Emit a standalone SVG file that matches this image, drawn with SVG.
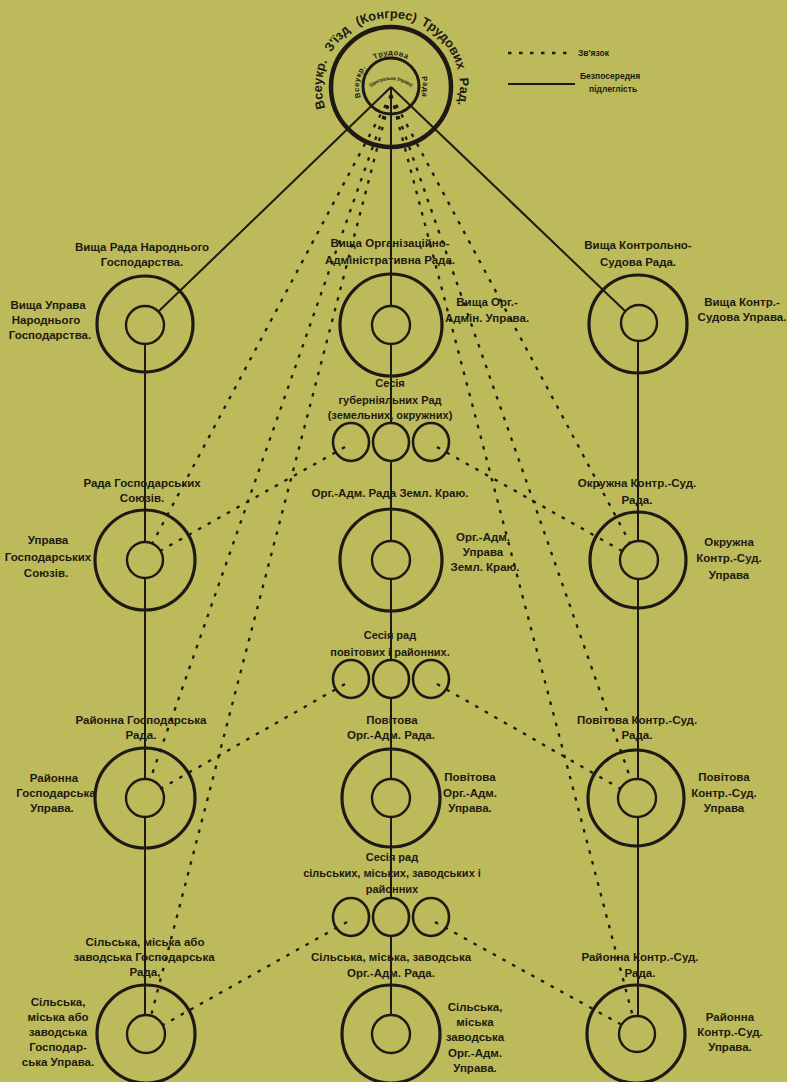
<svg xmlns="http://www.w3.org/2000/svg" width="787" height="1082" viewBox="0 0 787 1082">
<style>
.bg{fill:#bdba5b}
.o{fill:none;stroke:#1c1a12;stroke-width:3.2}
.i{fill:none;stroke:#1c1a12;stroke-width:2.4}
.t{fill:none;stroke:#1c1a12;stroke-width:2.6}
.s{stroke:#1c1a12;stroke-width:2;fill:none}
.d{stroke:#1c1a12;stroke-width:2.3;fill:none;stroke-dasharray:3.5 7.5}
text{font-family:"Liberation Sans","DejaVu Sans",sans-serif;font-weight:bold;font-size:11.5px;fill:#1c1a12;text-anchor:middle}
.sm{font-size:11px}
.lg{font-size:8.5px;text-anchor:start}
.ct{font-size:12.8px}
.ci{font-size:7.5px;letter-spacing:0.5px}
.cs{font-size:5px}
</style>
<defs>
<path id="arcOuter" d="M325,107.2 A69,69 0 1 1 457,107.2"/>
<path id="arcInner" d="M362,100.5 A32,32 0 1 1 420,100.5"/>
<path id="arcCore" d="M368,89 Q391,71 414,89"/>
</defs>
<rect class="bg" x="0" y="0" width="787" height="1082"/>

<g id="legend">
<line class="d" x1="508" y1="53" x2="574" y2="53"/>
<text class="lg" x="578" y="56">Зв'язок</text>
<line class="s" x1="508" y1="84" x2="575" y2="84"/>
<text class="lg" x="580" y="79">Безпосередня</text>
<text class="lg" x="589" y="92">підлеглість</text>
</g>

<g id="connectors">
<line class="s" x1="391" y1="87" x2="158" y2="312"/>
<line class="s" x1="391" y1="87" x2="625" y2="311"/>
<line class="s" x1="391" y1="87" x2="391" y2="306"/>
<line class="s" x1="391" y1="344" x2="391" y2="423"/>
<line class="s" x1="391" y1="461" x2="391" y2="541"/>
<line class="s" x1="391" y1="579" x2="391" y2="660"/>
<line class="s" x1="391" y1="698" x2="391" y2="779"/>
<line class="s" x1="391" y1="817" x2="391" y2="898"/>
<line class="s" x1="391" y1="936" x2="391" y2="1015"/>
<line class="s" x1="145" y1="343" x2="145" y2="542"/>
<line class="s" x1="145" y1="578" x2="145" y2="779"/>
<line class="s" x1="145" y1="817" x2="145" y2="1015"/>
<line class="s" x1="638" y1="342" x2="638" y2="541"/>
<line class="s" x1="638" y1="579" x2="638" y2="779"/>
<line class="s" x1="638" y1="817" x2="638" y2="1016"/>
<line class="d" x1="391" y1="95" x2="152" y2="544"/>
<line class="d" x1="391" y1="95" x2="150" y2="780"/>
<line class="d" x1="391" y1="95" x2="151" y2="1016"/>
<line class="d" x1="391" y1="95" x2="630" y2="543"/>
<line class="d" x1="391" y1="95" x2="631" y2="780"/>
<line class="d" x1="391" y1="95" x2="633" y2="1017"/>
<line class="d" x1="345" y1="447" x2="160" y2="551"/>
<line class="d" x1="437" y1="447" x2="622" y2="551"/>
<line class="d" x1="345" y1="684" x2="160" y2="789"/>
<line class="d" x1="437" y1="684" x2="621" y2="789"/>
<line class="d" x1="347" y1="922" x2="163" y2="1025"/>
<line class="d" x1="435" y1="922" x2="622" y2="1025"/>
</g>

<g id="congress">
<circle cx="391" cy="87" r="60" fill="none" stroke="#1c1a12" stroke-width="4.5"/>
<circle cx="391" cy="86" r="28" fill="none" stroke="#1c1a12" stroke-width="3"/>
<text class="ct"><textPath href="#arcOuter" startOffset="9%">Всеукр.</textPath></text>
<text class="ct"><textPath href="#arcOuter" startOffset="27.6%">З'їзд</textPath></text>
<text class="ct"><textPath href="#arcOuter" startOffset="48.2%">(Конгрес)</textPath></text>
<text class="ct"><textPath href="#arcOuter" startOffset="73.6%">Трудових</textPath></text>
<text class="ct"><textPath href="#arcOuter" startOffset="93.8%">Рад.</textPath></text>
<text class="ci"><textPath href="#arcInner" startOffset="15%">Всеукр.</textPath></text>
<text class="ci"><textPath href="#arcInner" startOffset="50%">Трудова</textPath></text>
<text class="ci"><textPath href="#arcInner" startOffset="89%">Рада</textPath></text>
<text class="cs" textLength="44" lengthAdjust="spacingAndGlyphs"><textPath href="#arcCore" startOffset="50%">(Центральна Управа)</textPath></text>
</g>

<g id="n-vrng">
<circle class="o" cx="145" cy="324" r="48"/>
<circle class="i" cx="145" cy="325" r="19"/>
<text x="142" y="251">Вища Рада Народнього</text>
<text x="142" y="266">Господарства.</text>
<text x="48" y="309">Вища Управа</text>
<text x="46" y="324">Народнього</text>
<text x="50" y="339">Господарства.</text>
</g>
<g id="n-voar">
<circle class="o" cx="391" cy="325" r="51"/>
<circle class="i" cx="391" cy="325" r="19"/>
<text x="390" y="247">Вища Організаційно-</text>
<text x="390" y="264">Адміністративна Рада.</text>
<text x="487" y="306">Вища Орг.-</text>
<text x="487" y="322">Адмін. Управа.</text>
</g>
<g id="n-vksr">
<circle class="o" cx="638" cy="324" r="49"/>
<circle class="i" cx="639" cy="323" r="18"/>
<text x="638" y="249">Вища Контрольно-</text>
<text x="638" y="266">Судова Рада.</text>
<text x="742" y="306">Вища Контр.-</text>
<text x="742" y="321">Судова Управа.</text>
</g>

<g id="s-gub">
<ellipse class="t" cx="351" cy="442" rx="18" ry="19"/>
<ellipse class="t" cx="391" cy="442" rx="18" ry="19"/>
<ellipse class="t" cx="431" cy="442" rx="18" ry="19"/>
<text class="sm" x="390" y="387">Сесія</text>
<text class="sm" x="390" y="404">губерніяльних Рад</text>
<text class="sm" x="390" y="419">(земельних, окружних)</text>
</g>

<g id="n-rgs">
<circle class="o" cx="145" cy="560" r="50"/>
<circle class="i" cx="145" cy="560" r="18"/>
<text x="142" y="487">Рада Господарських</text>
<text x="142" y="502">Союзів.</text>
<text x="48" y="544">Управа</text>
<text x="48" y="561">Господарських</text>
<text x="46" y="577">Союзів.</text>
</g>
<g id="n-oazk">
<circle class="o" cx="391" cy="560" r="51"/>
<circle class="i" cx="391" cy="560" r="19"/>
<text x="390" y="497">Орг.-Адм. Рада Земл. Краю.</text>
<text x="483" y="541">Орг.-Адм.</text>
<text x="483" y="556">Управа</text>
<text x="485" y="571">Земл. Краю.</text>
</g>
<g id="n-oks">
<circle class="o" cx="638" cy="560" r="48"/>
<circle class="i" cx="639" cy="560" r="19"/>
<text x="637" y="487">Окружна Контр.-Суд.</text>
<text x="637" y="504">Рада.</text>
<text x="729" y="546">Окружна</text>
<text x="729" y="562">Контр.-Суд.</text>
<text x="729" y="579">Управа</text>
</g>

<g id="s-pov">
<ellipse class="t" cx="351" cy="679" rx="18" ry="19"/>
<ellipse class="t" cx="391" cy="679" rx="18" ry="19"/>
<ellipse class="t" cx="431" cy="679" rx="18" ry="19"/>
<text class="sm" x="390" y="639">Сесія рад</text>
<text class="sm" x="390" y="656">повітових і районних.</text>
</g>

<g id="n-rgr">
<circle class="o" cx="145" cy="798" r="50"/>
<circle class="i" cx="145" cy="798" r="19"/>
<text x="141" y="724">Районна Господарська</text>
<text x="141" y="739">Рада.</text>
<text x="54" y="782">Районна</text>
<text x="56" y="797">Господарська</text>
<text x="52" y="812">Управа.</text>
</g>
<g id="n-poa">
<circle class="o" cx="391" cy="798" r="49"/>
<circle class="i" cx="391" cy="798" r="19"/>
<text x="392" y="724">Повітова</text>
<text x="391" y="739">Орг.-Адм. Рада.</text>
<text x="470" y="781">Повітова</text>
<text x="470" y="797">Орг.-Адм.</text>
<text x="470" y="812">Управа.</text>
</g>
<g id="n-pks">
<circle class="o" cx="636" cy="798" r="48"/>
<circle class="i" cx="637" cy="798" r="19"/>
<text x="637" y="724">Повітова Контр.-Суд.</text>
<text x="637" y="739">Рада.</text>
<text x="724" y="781">Повітова</text>
<text x="724" y="797">Контр.-Суд.</text>
<text x="724" y="812">Управа</text>
</g>

<g id="s-sil">
<ellipse class="t" cx="351" cy="917" rx="18" ry="19"/>
<ellipse class="t" cx="391" cy="917" rx="18" ry="19"/>
<ellipse class="t" cx="431" cy="917" rx="18" ry="19"/>
<text class="sm" x="392" y="861">Сесія рад</text>
<text class="sm" x="392" y="877">сільських, міських, заводських і</text>
<text class="sm" x="392" y="893">районних</text>
</g>

<g id="n-smgr">
<circle class="o" cx="146" cy="1034" r="49"/>
<circle class="i" cx="146" cy="1034" r="19"/>
<text x="145" y="946">Сільська, міська або</text>
<text x="144" y="961">заводська Господарська</text>
<text x="145" y="976">Рада,</text>
<text x="58" y="1006">Сільська,</text>
<text x="58" y="1021">міська або</text>
<text x="58" y="1036">заводська</text>
<text x="58" y="1051">Господар-</text>
<text x="58" y="1066">ська Управа.</text>
</g>
<g id="n-smoa">
<circle class="o" cx="391" cy="1034" r="49"/>
<circle class="i" cx="391" cy="1034" r="19"/>
<text x="391" y="961">Сільська, міська, заводська</text>
<text x="391" y="977">Орг.-Адм. Рада.</text>
<text x="475" y="1011">Сільська,</text>
<text x="475" y="1026">міська</text>
<text x="475" y="1041">заводська</text>
<text x="475" y="1057">Орг.-Адм.</text>
<text x="475" y="1072">Управа.</text>
</g>
<g id="n-rks">
<circle class="o" cx="636" cy="1034" r="49"/>
<circle class="i" cx="637" cy="1034" r="18"/>
<text x="640" y="961">Районна Контр.-Суд.</text>
<text x="640" y="977">Рада.</text>
<text x="730" y="1021">Районна</text>
<text x="730" y="1036">Контр.-Суд.</text>
<text x="730" y="1051">Управа.</text>
</g>
</svg>
